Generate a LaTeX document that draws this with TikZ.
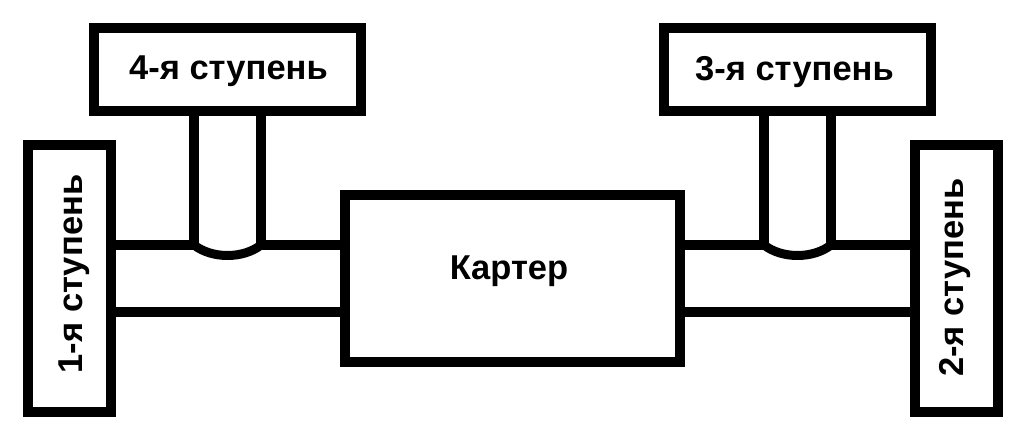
\documentclass[tikz,border=0pt]{standalone}
\usepackage{fontspec}
\setmainfont{Liberation Sans}
\tikzset{
 box/.style={draw=black,line width=10pt,fill=white,inner sep=0pt},
 pipe/.style={draw=black,line width=10pt},
 bendline/.style={draw=black,line width=9pt},
 lab/.style={inner sep=0pt,anchor=base,font=\bfseries\fontsize{34.5}{40}\selectfont},
}
\begin{document}
\begin{tikzpicture}[x=1pt,y=-1pt]
\useasboundingbox (0,0) rectangle (1024,439);
\node[box,minimum width=267pt,minimum height=83pt] (s4) at (227.5,69.5) {};
\node[box,minimum width=267pt,minimum height=83pt] (s3) at (797.5,69.5) {};
\node[box,minimum width=83pt,minimum height=267pt] (s1) at (69.5,278.5) {};
\node[box,minimum width=83pt,minimum height=267pt] (s2) at (956.5,278.5) {};
\node[box,minimum width=335pt,minimum height=167pt] (k) at (512.5,278.5) {};
\coordinate (p1) at (s1.east |- 0,245); \coordinate (p2) at (k.west |- 0,245);
\coordinate (p3) at (s1.east |- 0,312); \coordinate (p4) at (k.west |- 0,312);
\coordinate (q1) at (k.east |- 0,245); \coordinate (q2) at (s2.west |- 0,245);
\coordinate (q3) at (k.east |- 0,312); \coordinate (q4) at (s2.west |- 0,312);
\coordinate (a1) at (194,111); \coordinate (a2) at (194,245);
\coordinate (a3) at (261,111); \coordinate (a4) at (261,245);
\coordinate (b1) at (764,111); \coordinate (b2) at (764,245);
\coordinate (b3) at (831,111); \coordinate (b4) at (831,245);
\draw[pipe] (p1)--(a2) (a4)--(p2) (p3)--(p4) (q1)--(b2) (b4)--(q2) (q3)--(q4) (a1)--(a2) (a3)--(a4) (b1)--(b2) (b3)--(b4);
\draw[bendline] (a2) .. controls (212,259) and (243,259) .. (a4);
\draw[bendline] (b2) .. controls (782,259) and (813,259) .. (b4);
\node[lab] (t4) at (228.5,79) {4-я ступень};
\node[lab] (t3) at (794.5,80) {3-я ступень};
\node[lab,rotate=90] (t1) at (82,274) {1-я ступень};
\node[lab,rotate=90] (t2) at (963,277.5) {2-я ступень};
\node[lab] (tk) at (509,279) {Картер};
\end{tikzpicture}
\end{document}
